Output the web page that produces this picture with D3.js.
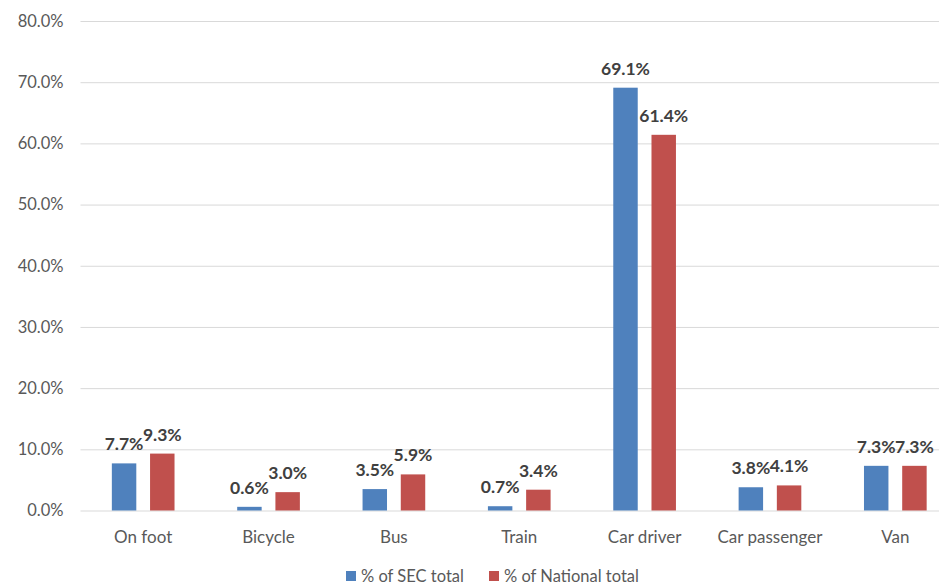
<!DOCTYPE html>
<html><head><meta charset="utf-8">
<script src="https://cdn.jsdelivr.net/npm/d3@7"></script>
<style>body{margin:0;background:#fff}svg{display:block}</style>
</head><body>
<script>
const categories = ["On foot","Bicycle","Bus","Train","Car driver","Car passenger","Van"];
const seriesNames = ["% of SEC total","% of National total"];
const secValues = [7.7,0.6,3.5,0.7,69.1,3.8,7.3];
const nationalValues = [9.3,3.0,5.9,3.4,61.4,4.1,7.3];
const yTicks = [0,10,20,30,40,50,60,70,80];
const colors = ["#4F81BD","#C0504D"];

const W=939,H=585;
const font = "Lato, 'Liberation Sans', sans-serif";
const svg = d3.select("body").append("svg").attr("width",W).attr("height",H);
const x = d3.scaleBand().domain(categories).range([80.5,958]).paddingInner(0).paddingOuter(0);
const y = d3.scaleLinear().domain([0,80]).range([510.5,21]);
const inner = d3.scaleBand().domain([0,1]).range([x.bandwidth()*0.25, x.bandwidth()*0.75]).paddingInner(0.36).paddingOuter(0);

const yAxis = svg.append("g").attr("transform","translate(80.5,0)")
  .call(d3.axisLeft(y).tickValues(yTicks).tickSize(-(958-80.5)).tickFormat(d=>d.toFixed(1)+"%"));
yAxis.select(".domain").remove();
yAxis.selectAll(".tick line").attr("stroke","#d9d9d9").attr("stroke-width",1);
yAxis.selectAll(".tick text").attr("x",-17).attr("fill","#595959").style("font-family",font).style("font-size","16.5px");

const xAxis = svg.append("g").attr("transform","translate(0,510.5)")
  .call(d3.axisBottom(x).tickSize(0).tickPadding(20));
xAxis.select(".domain").remove();
xAxis.selectAll(".tick text").attr("fill","#595959").style("font-family",font).style("font-size","17px");

const series=[secValues,nationalValues];
series.forEach((vals,si)=>{
  const g=svg.append("g");
  g.selectAll("rect").data(vals).join("rect")
    .attr("x",(d,i)=>x(categories[i])+inner(si))
    .attr("width",inner.bandwidth())
    .attr("y",d=>y(d)).attr("height",d=>y(0)-y(d))
    .attr("fill",colors[si]);
  g.selectAll("text").data(vals).join("text")
    .attr("x",(d,i)=>x(categories[i])+inner(si)+inner.bandwidth()/2)
    .attr("y",d=>y(d)-13)
    .attr("text-anchor","middle")
    .attr("fill","#404040").style("font-family",font).style("font-size","17.5px").style("font-weight","bold")
    .text(d=>d.toFixed(1)+"%");
});

const leg = svg.append("g");
const legX=[346,489];
seriesNames.forEach((n,i)=>{
  leg.append("rect").attr("x",legX[i]).attr("y",571).attr("width",10).attr("height",10).attr("fill",colors[i]);
  leg.append("text").attr("x",legX[i]+15).attr("y",582).attr("fill","#595959")
    .style("font-family",font).style("font-size","16.5px").text(n);
});
</script>
</body></html>
